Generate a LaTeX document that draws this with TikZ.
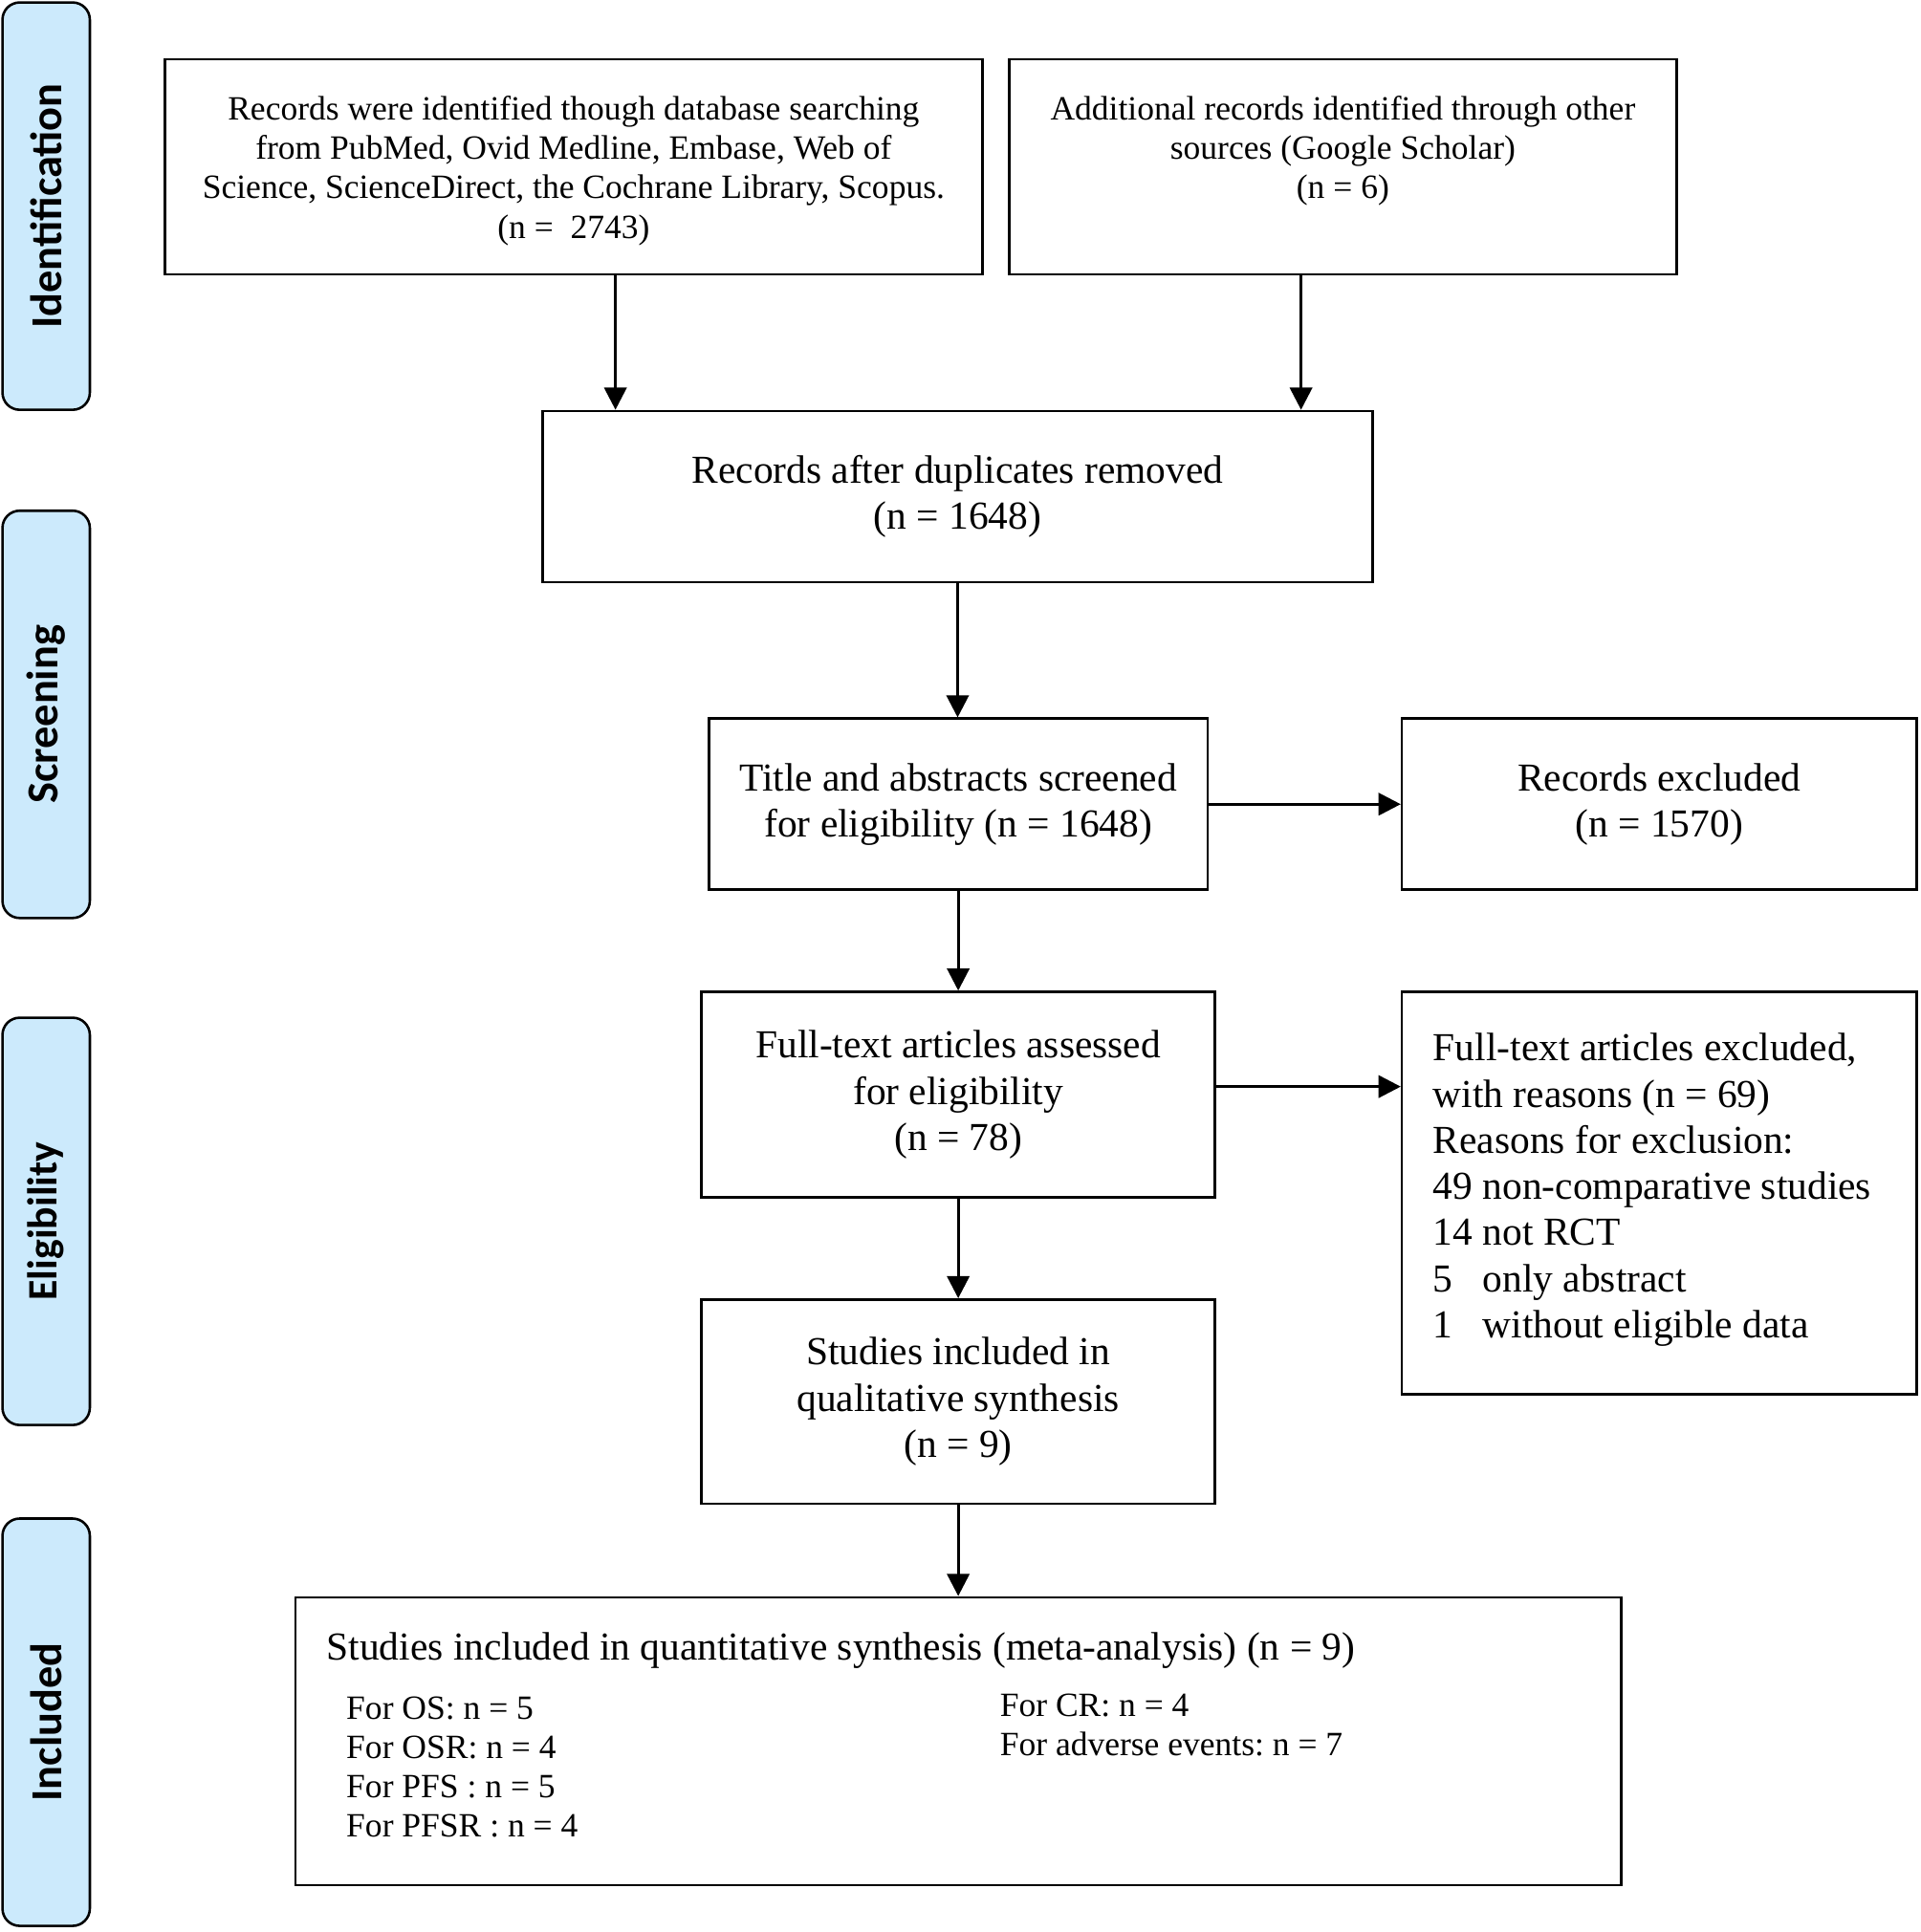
\documentclass[tikz,border=0pt]{standalone}
\usepackage{fontspec}
\setmainfont{Liberation Serif}
\newfontfamily\labfont{Carlito}
\usetikzlibrary{arrows.meta,calc}
\definecolor{phasefill}{RGB}{204,234,252}
\newcommand\fntbig{\fontsize{16.1}{18.75}\selectfont}
\newcommand\fntsmall{\fontsize{13.8}{16}\selectfont}
\frenchspacing
\begin{document}
\frenchspacing
\begin{tikzpicture}[x=0.5pt,y=-0.5pt,
  box/.style={draw, line width=1pt, inner sep=0pt, align=center, fill=white},
  phase/.style={draw, line width=1pt, fill=phasefill, rounded corners=7pt, rotate=90,
    minimum width=165.5pt, minimum height=35.5pt, inner sep=0pt,
    font=\labfont\bfseries\fontsize{18}{20}\selectfont},
  arr/.style={-{Triangle[length=9pt,width=9pt]}, line width=1.2pt}]
\useasboundingbox (0,0) rectangle (1560,1570);

% phase labels
\node[phase] (pI) at (37.5,167.5) {Identification};
\node[phase] (pS) at (37.5,580.5) {Screening};
\node[phase, font=\labfont\bfseries\fontsize{17}{20}\selectfont] (pE) at (37.5,992.5) {Eligibility};
\node[phase] (pN) at (37.5,1399.5) {Included};

% boxes
\node[box, font=\fntsmall, minimum width=332pt, minimum height=87.5pt] (b1) at (466,135.5)
  {\rule{0pt}{13pt}Records were identified though database searching\\from PubMed, Ovid Medline, Embase, Web of\\Science, ScienceDirect, the Cochrane Library, Scopus.\\(n =\ \ 2743)};
\node[box, font=\fntsmall, minimum width=271pt, minimum height=87.5pt] (b2) at (1091,135.5)
  {Additional records identified through other\\sources (Google Scholar)\\(n = 6)\\[-5pt]\strut};
\node[box, font=\fntbig, minimum width=337pt, minimum height=69.5pt] (b3) at (778,403.5)
  {Records after duplicates removed\\(n = 1648)};
\node[box, font=\fntbig, minimum width=202.5pt, minimum height=69.5pt] (b4) at (778.5,653.5)
  {Title and abstracts screened\\for eligibility (n = 1648)};
\node[box, font=\fntbig, minimum width=209pt, minimum height=69.5pt] (b5) at (1348,653.5)
  {Records excluded\\(n = 1570)};
\node[box, font=\fntbig, minimum width=208.5pt, minimum height=83.5pt] (b6) at (778.5,889.5)
  {Full-text articles assessed\\for eligibility\\(n = 78)};
\node[box, minimum width=209pt, minimum height=163.5pt] (b7) at (1348,969.5) {};
\node[font=\fntbig, anchor=west, align=left, inner sep=0pt] (t7) at (1164,967)
  {Full-text articles excluded,\\with reasons (n = 69)\\Reasons for exclusion:\\49 non-comparative studies\\14 not RCT\\\makebox[1.25em][l]{5}only abstract\\\makebox[1.25em][l]{1}without eligible data};
\node[box, font=\fntbig, minimum width=208.5pt, minimum height=83pt] (b8) at (778.5,1139)
  {Studies included in\\qualitative synthesis\\(n = 9)};
\node[box, minimum width=538.5pt, minimum height=117pt] (b9) at (778.5,1415) {};
\node[font=\fntbig, anchor=west, inner sep=0pt] (t9) at (265,1341)
  {Studies included in quantitative synthesis (meta-analysis) (n = 9)};
\node[font=\fntsmall, anchor=west, align=left, inner sep=0pt] (l9) at (281,1436)
  {For OS: n = 5\\For OSR: n = 4\\For PFS : n = 5\\For PFSR : n = 4};
\node[font=\fntsmall, anchor=west, align=left, inner sep=0pt] (r9) at (812,1402)
  {For CR: n = 4\\For adverse events: n = 7};

% connectors
\coordinate (c1) at ($(b3.north west)+(60,0)$);
\coordinate (c2) at ($(b3.north east)+(-59,0)$);
\draw[arr] (b1.south -| c1) -- (c1);
\draw[arr] (b2.south -| c2) -- (c2);
\draw[arr] (b3.south) -- (b3.south |- b4.north);
\draw[arr] (b4.east) -- (b5.west);
\draw[arr] (b4.south) -- (b6.north);
\coordinate (c6) at ($(b6.east)+(0,-6.5)$);
\draw[arr] (c6) -- (c6 -| b7.west);
\draw[arr] (b6.south) -- (b8.north);
\draw[arr] (b8.south) -- (b9.north);
\end{tikzpicture}
\end{document}
